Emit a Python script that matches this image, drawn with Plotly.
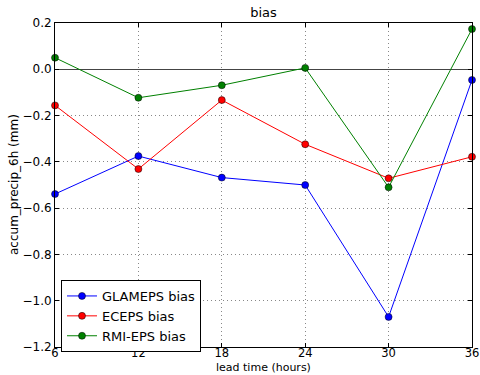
import plotly.graph_objects as go

lead_time = [6, 12, 18, 24, 30, 36]
glameps = [-0.539, -0.375, -0.468, -0.500, -1.070, -0.046]
eceps = [-0.156, -0.431, -0.133, -0.324, -0.471, -0.378]
rmieps = [0.050, -0.123, -0.069, 0.006, -0.510, 0.174]
x_ticks = [6, 12, 18, 24, 30, 36]
y_ticks = [0.2, 0.0, -0.2, -0.4, -0.6, -0.8, -1.0, -1.2]
y_labels = ["0.2", "0.0", "\u22120.2", "\u22120.4", "\u22120.6", "\u22120.8", "\u22121.0", "\u22121.2"]

series = [("GLAMEPS bias", glameps, "#0000ff"),
          ("ECEPS bias", eceps, "#ff0000"),
          ("RMI-EPS bias", rmieps, "#008000")]

fig = go.Figure()
for name, vals, col in series:
    fig.add_trace(go.Scatter(
        x=lead_time, y=vals, name=name, mode="lines+markers",
        line=dict(color=col, width=1),
        marker=dict(color=col, size=7, line=dict(color="#000000", width=0.5)),
        cliponaxis=False,
    ))

font = "DejaVu Sans, sans-serif"
L, R, T, B = 55, 472, 23, 347
fig.update_layout(
    width=480, height=375,
    margin=dict(l=L, r=480 - R, t=T, b=375 - B),
    paper_bgcolor="white", plot_bgcolor="white",
    font=dict(family=font, size=12, color="#000000"),
    title=dict(text="bias", x=(L + R) / 2 / 480, xanchor="center", y=1 - 12 / 375, yanchor="middle",
               font=dict(family=font, size=13, color="#000000")),
    showlegend=True,
    legend=dict(x=(61 - L) / (R - L), y=(B - 280) / (B - T), xanchor="left", yanchor="top",
                bordercolor="#000000", borderwidth=1, bgcolor="white",
                font=dict(family=font, size=13, color="#000000"),
                tracegroupgap=0, itemwidth=30),
    annotations=[
        dict(text="lead time (hours)", xref="paper", yref="paper",
             x=0.5, y=-(375 - B) / (B - T), xanchor="center", yanchor="bottom",
             showarrow=False, borderpad=0, font=dict(family=font, size=11, color="#000000")),
        dict(text="accum_precip_6h (mm)", xref="paper", yref="paper",
             x=-(L - 14) / (R - L), y=0.5, xanchor="center", yanchor="middle",
             textangle=-90, showarrow=False, font=dict(family=font, size=12, color="#000000")),
    ],
)
fig.update_xaxes(
    range=[6, 36], tickvals=x_ticks, ticktext=[str(v) for v in x_ticks],
    showgrid=True, gridcolor="#888888", griddash="1px,3px", gridwidth=1,
    showline=True, linecolor="#000000", linewidth=1, mirror="ticks",
    ticks="inside", ticklen=4, tickcolor="#000000",
    zeroline=False, automargin=False, ticklabelstandoff=-5,
    tickfont=dict(size=11.5),
)
fig.update_yaxes(
    range=[-1.2, 0.2], tickvals=y_ticks, ticktext=y_labels,
    showgrid=True, gridcolor="#888888", griddash="1px,3px", gridwidth=1,
    showline=True, linecolor="#000000", linewidth=1, mirror="ticks",
    ticks="inside", ticklen=4, tickcolor="#000000",
    zeroline=True, zerolinecolor="#444444", zerolinewidth=1,
    automargin=False,
    tickfont=dict(size=12),
)
fig.write_html("out.html")
